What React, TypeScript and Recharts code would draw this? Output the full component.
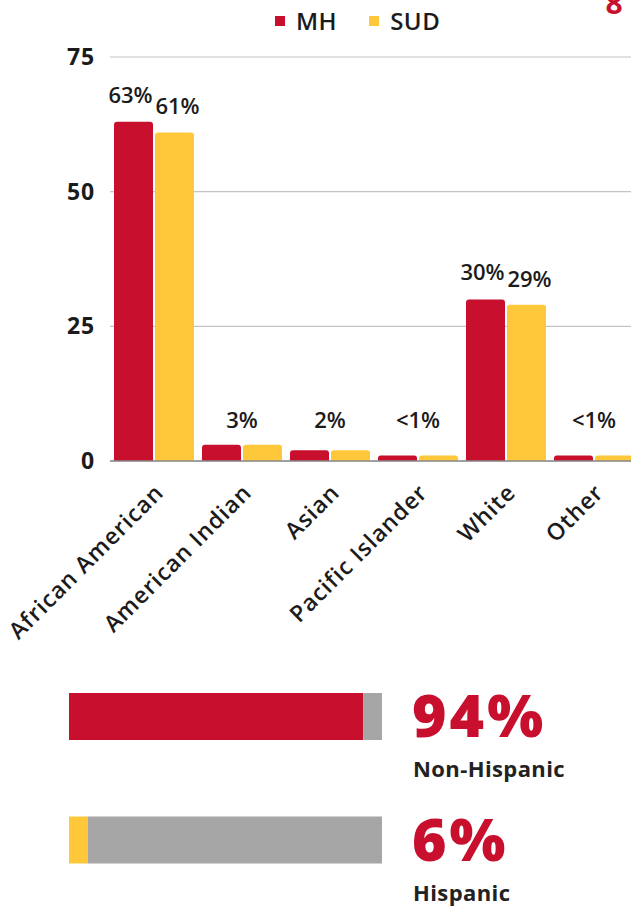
import { BarChart, Bar, XAxis, YAxis, CartesianGrid, LabelList, Cell } from 'recharts'

const RED = '#C8102E'
const GOLD = '#FFC83A'
const GRAY = '#A6A6A6'
const INK = '#1b1b1b'
const FONT = '"Open Sans", "DejaVu Sans", sans-serif'

// Race breakdown, percent of clients
const races = ['African American', 'American Indian', 'Asian', 'Pacific Islander', 'White', 'Other']
const mhShare = [63, 3, 2, 1, 30, 1]
const sudShare = [61, 3, 2, 1, 29, 1]
const mhLabels = ['63%', '', '', '', '30%', '']
const sudLabels = ['61%', '', '', '', '29%', '']
const pairLabels = ['', '3%', '2%', '<1%', '', '<1%']
const yTicks = [0, 25, 50, 75]

// Ethnicity split
const ethnicity = ['Non-Hispanic', 'Hispanic']
const ethnicityShare = [94, 6]
const ethnicityLabels = ['94%', '6%']
const ethnicityColors = [RED, GOLD]

const raceData = races.map((race, i) => ({ race, mh: mhShare[i], sud: sudShare[i] }))
const ethnicityData = ethnicity.map((name, i) => ({
  name,
  share: ethnicityShare[i],
  rest: 100 - ethnicityShare[i],
}))

const labelStyle = { fontFamily: FONT, fontSize: 22, fontWeight: 600, fill: INK }

function RaceTick({ x, y, payload }: any) {
  const ax = x + 11
  const ay = y + 25
  return (
    <text
      x={ax}
      y={ay}
      transform={`rotate(-45 ${ax} ${ay})`}
      textAnchor="end"
      style={{ fontFamily: FONT, fontSize: 23, fontWeight: 600, letterSpacing: 1 }}
      fill={INK}
    >
      {payload.value}
    </text>
  )
}

// MH label, plus the shared label centred over the pair when values are tiny
function MhLabel({ x, y, width, height, index }: any) {
  const own = mhLabels[index]
  const pair = pairLabels[index]
  const pairY = Math.min(y, y + height - 16) - 17
  return (
    <g>
      {own && (
        <text x={x + width / 2 - 3} y={y - 19} textAnchor="middle" style={labelStyle}>
          {own}
        </text>
      )}
      {pair && (
        <text x={x + width + 1} y={pairY} textAnchor="middle" style={labelStyle}>
          {pair}
        </text>
      )}
    </g>
  )
}

function SudLabel({ x, y, width, index }: any) {
  const own = sudLabels[index]
  if (!own) return null
  return (
    <text x={x + width / 2 + 3} y={y - 18} textAnchor="middle" style={labelStyle}>
      {own}
    </text>
  )
}

function EthnicityLabel({ x, y, width, index }: any) {
  return (
    <g>
      <text
        x={x + width + 30}
        y={y + 44}
        style={{ fontFamily: FONT, fontSize: 59, fontWeight: 800, letterSpacing: 3 }}
        fill={RED}
      >
        {ethnicityLabels[index]}
      </text>
      <text
        x={x + width + 31}
        y={y + 84}
        style={{ fontFamily: FONT, fontSize: 22, fontWeight: 700, letterSpacing: 0.4 }}
        fill="#222"
      >
        {ethnicity[index]}
      </text>
    </g>
  )
}

function Legend() {
  const item = (color: string, text: string) => (
    <span style={{ display: 'inline-flex', alignItems: 'center', marginRight: 32 }}>
      <span style={{ width: 10, height: 10, background: color, marginRight: 11 }} />
      <span style={{ fontSize: 24, fontWeight: 600, color: INK, letterSpacing: 0.5 }}>{text}</span>
    </span>
  )
  return (
    <div
      style={{
        position: 'absolute',
        top: 5,
        left: 275,
        display: 'flex',
        fontFamily: FONT,
        lineHeight: '32px',
      }}
    >
      {item(RED, 'MH')}
      {item(GOLD, 'SUD')}
    </div>
  )
}

export default function App() {
  return (
    <div
      style={{
        position: 'absolute',
        left: 0,
        top: 0,
        width: 631,
        height: 909,
        overflow: 'hidden',
        background: '#fff',
      }}
    >
      <svg width={631} height={20} style={{ position: 'absolute', left: 0, top: 0 }}>
        <text
          x={614}
          y={14}
          textAnchor="middle"
          style={{ fontFamily: FONT, fontSize: 30, fontWeight: 700 }}
          fill={RED}
        >
          8
        </text>
      </svg>

      <Legend />

      <div style={{ position: 'absolute', left: 0, top: 0 }}>
        <BarChart
          width={640}
          height={661}
          data={raceData}
          margin={{ top: 57, right: 2, bottom: 0, left: 0 }}
          barCategoryGap={4}
          barGap={2}
        >
          <CartesianGrid vertical={false} stroke="#c4c4c4" strokeWidth={1.2} />
          <XAxis
            dataKey="race"
            axisLine={{ stroke: '#8a8a8a', strokeWidth: 1.5 }}
            tickLine={false}
            interval={0}
            height={200}
            tick={<RaceTick />}
          />
          <YAxis
            width={110}
            domain={[0, 75]}
            ticks={yTicks}
            axisLine={false}
            tickLine={false}
            tickSize={0}
            tickMargin={15}
            tick={{ fontFamily: FONT, fontSize: 23, fontWeight: 700, fill: INK, letterSpacing: 0.8 }}
          />
          <Bar dataKey="mh" fill={RED} radius={[3, 3, 0, 0]} isAnimationActive={false}>
            <LabelList dataKey="mh" content={<MhLabel />} />
          </Bar>
          <Bar dataKey="sud" fill={GOLD} radius={[3, 3, 0, 0]} isAnimationActive={false}>
            <LabelList dataKey="sud" content={<SudLabel />} />
          </Bar>
        </BarChart>
      </div>

      <div style={{ position: 'absolute', left: 69, top: 655 }}>
        <BarChart
          layout="vertical"
          width={562}
          height={258}
          data={ethnicityData}
          margin={{ top: 0, right: 249, bottom: 11, left: 0 }}
          barSize={47}
        >
          <XAxis type="number" domain={[0, 100]} hide />
          <YAxis type="category" dataKey="name" hide />
          <Bar dataKey="share" stackId="eth" isAnimationActive={false}>
            {ethnicityData.map((d, i) => (
              <Cell key={d.name} fill={ethnicityColors[i]} />
            ))}
          </Bar>
          <Bar dataKey="rest" stackId="eth" fill={GRAY} isAnimationActive={false}>
            <LabelList dataKey="rest" content={<EthnicityLabel />} />
          </Bar>
        </BarChart>
      </div>
    </div>
  )
}
